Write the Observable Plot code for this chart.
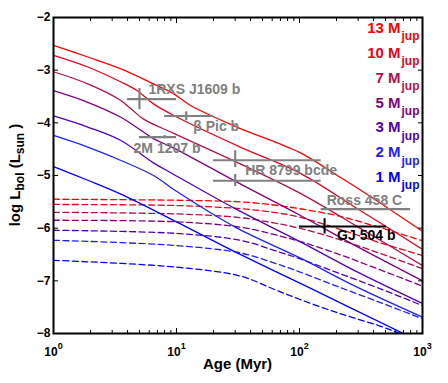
<!DOCTYPE html>
<html>
<head>
<meta charset="utf-8">
<script src="https://cdn.jsdelivr.net/npm/d3@7"></script>
<script src="https://cdn.jsdelivr.net/npm/@observablehq/plot@0.6"></script>
<style>
  html, body { margin: 0; padding: 0; background: #fff; }
  #chart svg { display: block; }
</style>
</head>
<body>
<div id="chart"></div>
<script>
// ---------------- data ----------------
const masses = [13, 10, 7, 5, 3, 2, 1];

// hot-start tracks: [age (Myr), log Lbol]
const hot13 = [[1,-2.53],[1.9,-2.75],[3.5,-2.97],[6.5,-3.26],[9.5,-3.45],[13,-3.67],[31,-4.08],[100,-4.56],[200,-4.99],[315,-5.28],[1000,-6.06]];
const hot10 = [[1,-2.72],[1.9,-2.94],[3.5,-3.22],[4.8,-3.39],[6.5,-3.64],[9.5,-3.86],[33,-4.46],[100,-4.95],[300,-5.64],[1000,-6.40]];
const hot7  = [[1,-3.03],[1.9,-3.26],[3.5,-3.57],[4.2,-3.72],[5.4,-3.93],[9.5,-4.20],[33,-4.78],[100,-5.33],[300,-5.98],[1000,-6.71]];
const hot5  = [[1,-3.39],[1.9,-3.61],[3.5,-3.89],[4.5,-4.05],[6.5,-4.30],[9.5,-4.48],[33,-5.16],[100,-5.75],[300,-6.36],[1000,-7.00]];
const hot3  = [[1,-3.87],[1.9,-4.08],[3.5,-4.33],[6.5,-4.76],[9.5,-4.98],[30,-5.63],[100,-6.25],[300,-6.84],[1000,-7.43]];
const hot2  = [[1,-4.24],[1.9,-4.46],[3.5,-4.71],[6.5,-5.00],[10,-5.30],[30,-5.98],[100,-6.56],[300,-7.13],[1000,-7.69]];
const hot1  = [[1,-4.83],[1.9,-5.09],[3.5,-5.35],[10,-5.88],[30,-6.45],[144,-7.22],[700,-8.00],[1000,-8.17]];

// cold-start tracks
const cold13 = [[1,-5.45],[10,-5.47],[33,-5.50],[62,-5.56],[100,-5.63],[200,-5.76],[440,-5.98],[1000,-6.24]];
const cold10 = [[1,-5.55],[10,-5.57],[33,-5.63],[62,-5.70],[100,-5.79],[200,-6.00],[440,-6.27],[1000,-6.52]];
const cold7  = [[1,-5.70],[10,-5.73],[33,-5.80],[62,-5.90],[100,-6.00],[200,-6.20],[440,-6.47],[1000,-6.77]];
const cold5  = [[1,-5.85],[10,-5.88],[33,-5.98],[62,-6.12],[100,-6.25],[200,-6.48],[440,-6.78],[1000,-7.10]];
const cold3  = [[1,-6.04],[10,-6.10],[33,-6.23],[62,-6.42],[100,-6.58],[200,-6.84],[440,-7.14],[1000,-7.47]];
const cold2  = [[1,-6.23],[10,-6.33],[33,-6.47],[62,-6.66],[100,-6.83],[200,-7.10],[440,-7.40],[1000,-7.72]];
const cold1  = [[1,-6.61],[10,-6.74],[33,-6.91],[62,-7.16],[100,-7.35],[200,-7.60],[440,-7.85],[700,-8.02],[1000,-8.15]];

// observed objects
const objLabel = ["1RXS J1609 b", "β Pic b", "2M 1207 b", "HR 8799 bcde", "", "Ross 458 C", "GJ 504 b"];
const objAge   = [5, 12, 8, 30, 30, 350, 160];
const objAgeLo = [4, 8, 5, 20, 20, 150, 100];
const objAgeHi = [10, 20, 10, 150, 150, 800, 510];
const objL     = [-3.55, -3.87, -4.27, -4.71, -5.10, -5.64, -5.97];
const objLLo   = [-3.75, -3.96, -4.30, -4.85, -5.21, null, -6.11];
const objLHi   = [-3.35, -3.79, -4.24, -4.53, -4.98, null, -5.82];

// ticks
const xTickValues = [1, 10, 100, 1000];
const xMinorTicks = [2,3,4,5,6,7,8,9,20,30,40,50,60,70,80,90,200,300,400,500,600,700,800,900];
const yTickValues = [-2, -3, -4, -5, -6, -7, -8];

// ---------------- styles / layout ----------------
const palette = ["#ff0000", "#ec0020", "#b0104a", "#800080", "#5000b8", "#2020ff", "#0000ff"];
const FONT = "'Liberation Sans', Arial, Helvetica, sans-serif";
const W = 448, H = 383, ML = 53, MR = 26, MT = 17, MB = 50;
const GRAY = "#808080";

const labelLayout = {
  "1RXS J1609 b": {dx: 9, dy: -5, anchor: "start"},
  "β Pic b": {dx: 7, dy: 15, anchor: "start"},
  "2M 1207 b": {dx: -31, dy: 16, anchor: "start"},
  "HR 8799 bcde": {dx: 10, dy: 15, anchor: "start"},
  "Ross 458 C": {dx: -2, dy: -4.5, anchor: "middle"},
  "GJ 504 b": {dx: 12.5, dy: 13, anchor: "start"}
};

// ---------------- tables ----------------
const hotTracks = [hot13, hot10, hot7, hot5, hot3, hot2, hot1];
const coldTracks = [cold13, cold10, cold7, cold5, cold3, cold2, cold1];
const hotRows = masses.flatMap((m, i) => hotTracks[i].map(([age, L]) => ({mass: m, age, L})));
const coldRows = masses.flatMap((m, i) => coldTracks[i].map(([age, L]) => ({mass: m, age, L})));
const objects = objLabel.map((label, i) => ({
  label, age: objAge[i], ageLo: objAgeLo[i], ageHi: objAgeHi[i],
  L: objL[i], LLo: objLLo[i], LHi: objLHi[i], black: label === "GJ 504 b"
}));

// ---------------- marks ----------------
const labelMarks = objects.filter(d => d.label).map(d => {
  const lay = labelLayout[d.label];
  return Plot.text([d], {
    x: "age", y: "L", text: "label",
    dx: lay.dx, dy: lay.dy, textAnchor: lay.anchor, lineAnchor: "bottom",
    fill: d.black ? "black" : GRAY, fontSize: 14, fontWeight: "bold"
  });
});

const legendMarks = masses.flatMap((m, i) => [
  Plot.text([m], {
    frameAnchor: "top-right", text: d => `${d} M`, fill: d => d,
    textAnchor: "end", lineAnchor: "bottom", dx: -22, dy: 15.3 + i * 24.9,
    fontSize: 15, fontWeight: "bold"
  }),
  Plot.text([m], {
    frameAnchor: "top-right", text: () => "jup", fill: d => d,
    textAnchor: "start", lineAnchor: "bottom", dx: -21, dy: 22.5 + i * 24.9,
    fontSize: 12, fontWeight: "bold"
  })
]);

const chart = Plot.plot({
  width: W, height: H,
  marginLeft: ML, marginRight: MR, marginTop: MT, marginBottom: MB,
  style: {fontFamily: FONT, background: "white", overflow: "visible"},
  x: {type: "log", domain: [1, 1000]},
  y: {domain: [-8, -2]},
  color: {type: "ordinal", domain: masses, range: palette},
  marks: [
    Plot.line(coldRows, {x: "age", y: "L", z: "mass", stroke: "mass", strokeWidth: 1.3,
      strokeDasharray: "6,3.5", curve: "catmull-rom", clip: true}),
    Plot.line(hotRows, {x: "age", y: "L", z: "mass", stroke: "mass", strokeWidth: 1.3,
      curve: "catmull-rom", clip: true}),
    // error bars
    Plot.ruleY(objects, {filter: d => !d.black, y: "L", x1: "ageLo", x2: "ageHi", stroke: GRAY, strokeWidth: 2.2}),
    Plot.ruleX(objects, {filter: d => !d.black && d.LLo != null, x: "age", y1: "LLo", y2: "LHi", stroke: GRAY, strokeWidth: 2.2}),
    Plot.ruleY(objects, {filter: d => d.black, y: "L", x1: "ageLo", x2: "ageHi", stroke: "black", strokeWidth: 2}),
    Plot.ruleX(objects, {filter: d => d.black, x: "age", y1: "LLo", y2: "LHi", stroke: "black", strokeWidth: 2}),
    ...labelMarks,
    ...legendMarks,
    // axes: inward ticks on all four sides
    Plot.axisX(xMinorTicks, {anchor: "bottom", tickSize: -3, tickFormat: () => "", label: null}),
    Plot.axisX(xMinorTicks, {anchor: "top", tickSize: -3, tickFormat: () => "", label: null}),
    Plot.axisX(xTickValues, {anchor: "bottom", tickSize: -5, tickFormat: () => "", label: null}),
    Plot.axisX(xTickValues, {anchor: "top", tickSize: -5, tickFormat: () => "", label: null}),
    Plot.axisX(xTickValues, {anchor: "bottom", tickSize: 0, tickPadding: 13.5,
      tickFormat: d => `10^${Math.round(Math.log10(d))}`, fontSize: 12, fontWeight: "bold", fill: "black", label: null}),
    Plot.axisY(yTickValues, {anchor: "left", tickSize: -5, tickFormat: () => "", label: null}),
    Plot.axisY(yTickValues, {anchor: "right", tickSize: -5, tickFormat: () => "", label: null}),
    Plot.axisY(yTickValues, {anchor: "left", tickSize: 0, tickPadding: 3,
      tickFormat: d => (d < 0 ? "\u2212" : "") + Math.abs(d),
      fontSize: 12, fontWeight: "bold", fill: "black", label: null}),
    Plot.frame({stroke: "black", strokeWidth: 2})
  ]
});

// superscript exponents on the x tick labels
chart.querySelectorAll('[aria-label="x-axis tick label"] text').forEach(t => {
  const s = t.textContent;
  if (!s.includes("^")) return;
  const [base, exp] = s.split("^");
  t.textContent = "";
  const ns = "http://www.w3.org/2000/svg";
  const a = document.createElementNS(ns, "tspan");
  a.textContent = base;
  const b = document.createElementNS(ns, "tspan");
  b.textContent = exp;
  b.setAttribute("dy", "-7");
  b.setAttribute("font-size", "9");
  t.appendChild(a); t.appendChild(b);
});

// axis titles with subscripts
const svg = d3.select(chart);
svg.append("text")
  .attr("x", ML + (W - ML - MR) / 2).attr("y", 369)
  .attr("text-anchor", "middle")
  .attr("font-family", FONT).attr("font-weight", "bold").attr("font-size", 15)
  .attr("fill", "black")
  .text("Age (Myr)");

const yt = svg.append("text")
  .attr("transform", `translate(19.5,${MT + (H - MT - MB) / 2}) rotate(-90)`)
  .attr("text-anchor", "middle")
  .attr("font-family", FONT).attr("font-weight", "bold").attr("font-size", 15)
  .attr("fill", "black");
yt.append("tspan").text("log L");
yt.append("tspan").attr("dy", 4).attr("font-size", 12).text("bol");
yt.append("tspan").attr("dy", -4).text(" (L");
yt.append("tspan").attr("dy", 4).attr("font-size", 12).text("sun");
yt.append("tspan").attr("dy", -4).text(" )");

document.getElementById("chart").appendChild(chart);
</script>
</body>
</html>
